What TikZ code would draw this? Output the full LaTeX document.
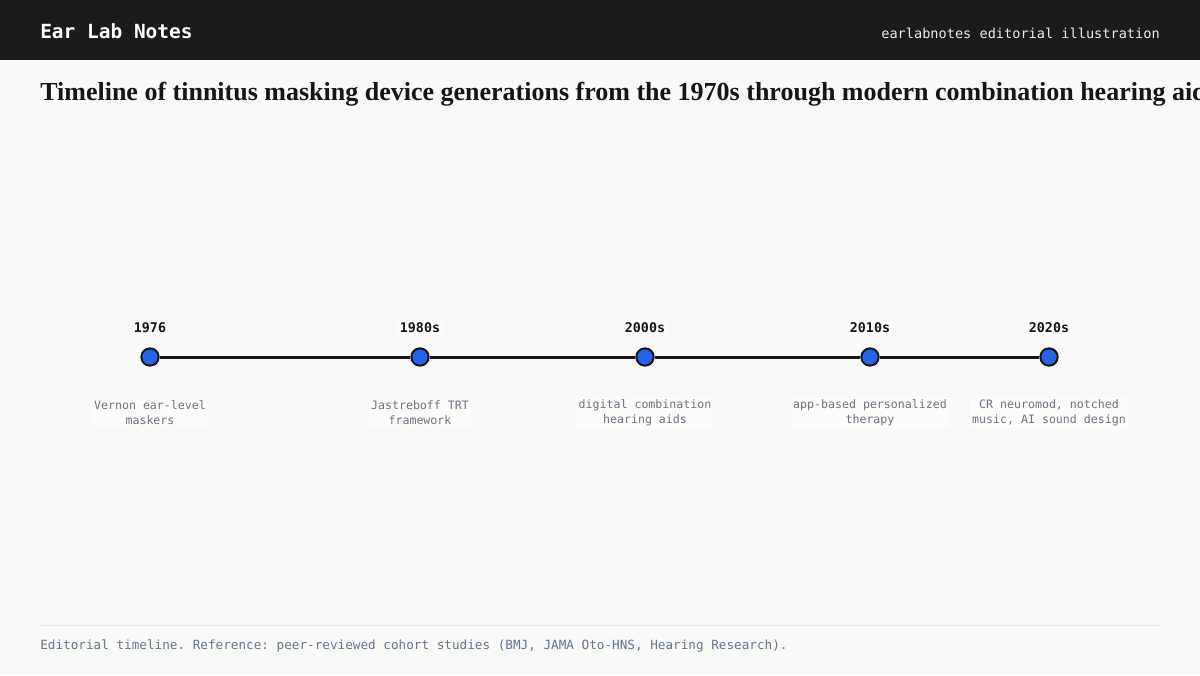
\documentclass[tikz,border=0pt]{standalone}
\usepackage{fontspec}
\setmainfont{Liberation Serif}
\setmonofont{DejaVu Sans Mono}
\usetikzlibrary{positioning}
\definecolor{headbg}{HTML}{1B1B1B}
\definecolor{pagebg}{HTML}{F9F9F7}
\definecolor{dotblue}{HTML}{2563EB}
\definecolor{inkdark}{HTML}{151515}
\definecolor{notegray}{HTML}{6B7280}
\definecolor{footgray}{HTML}{64748B}
\definecolor{rulegray}{HTML}{E6E6E3}
\newcommand{\lineY}{357}
\newcommand{\yearY}{328}
\newcommand{\noteY}{413}
\newcommand{\xone}{150}
\newcommand{\xtwo}{420}
\newcommand{\xthree}{645}
\newcommand{\xfour}{870}
\newcommand{\xfive}{1049}
\tikzset{
  yeardot/.style={circle,draw=inkdark,line width=1.5pt,fill=dotblue,inner sep=0pt,minimum size=13pt},
  yearlabel/.style={fill=white!55!pagebg,inner sep=1.5pt,font=\fontsize{10}{12}\selectfont\ttfamily\bfseries,text=inkdark},
  notelabel/.style={fill=white!55!pagebg,inner sep=1.5pt,align=center,font=\fontsize{8.7}{11.4}\selectfont\ttfamily,text=notegray},
  timeline/.style={draw=inkdark,line width=2.25pt}
}
\begin{document}
\begin{tikzpicture}[x=0.75pt,y=-0.75pt]

% Page and header band
\useasboundingbox (0,0) rectangle (1200,675);
\fill[pagebg] (0,0) rectangle (1200,675);
\fill[headbg] (0,0) rectangle (1200,60);
\node (brand) [anchor=west,inner sep=0pt,text=white,font=\fontsize{14.6}{16}\selectfont\ttfamily\bfseries] at (40,31) {Ear Lab Notes};
\node (tagline) [anchor=east,inner sep=0pt,text=white!92!black,font=\fontsize{10.2}{12}\selectfont\ttfamily] at (1160,33) {earlabnotes editorial illustration};

% Title
\node (title) [anchor=base west,inner sep=0pt,text=inkdark,font=\fontsize{19.5}{22}\selectfont\bfseries] at (40,100) {Timeline of tinnitus masking device generations from the 1970s through modern combination hearing aids};

% Timeline dots
\node (d1) [yeardot] at (\xone,\lineY) {};
\node (d2) [yeardot] at (\xtwo,\lineY) {};
\node (d3) [yeardot] at (\xthree,\lineY) {};
\node (d4) [yeardot] at (\xfour,\lineY) {};
\node (d5) [yeardot] at (\xfive,\lineY) {};

% Connectors
\draw[timeline] (d1) -- (d2);
\draw[timeline] (d2) -- (d3);
\draw[timeline] (d3) -- (d4);
\draw[timeline] (d4) -- (d5);

% Year labels
\node (y1) [yearlabel] at (\xone,\yearY) {1976};
\node (y2) [yearlabel] at (\xtwo,\yearY) {1980s};
\node (y3) [yearlabel] at (\xthree,\yearY) {2000s};
\node (y4) [yearlabel] at (\xfour,\yearY) {2010s};
\node (y5) [yearlabel] at (\xfive,\yearY) {2020s};

% Notes under the dots
\node (n1) [notelabel] at (\xone,\noteY) {Vernon ear-level\\maskers};
\node (n2) [notelabel] at (\xtwo,\noteY) {Jastreboff TRT\\framework};
\node (n3) [notelabel] at (\xthree,\noteY) {digital combination\\hearing aids};
\node (n4) [notelabel] at (\xfour,\noteY) {app-based personalized\\therapy};
\node (n5) [notelabel] at (\xfive,\noteY) {CR neuromod, notched\\music, AI sound design};

% Footer
\draw[rulegray,line width=0.75pt] (40,625) -- (1160,625);
\node (footer) [anchor=west,inner sep=0pt,text=footgray,font=\fontsize{9.5}{11}\selectfont\ttfamily] at (40,646) {Editorial timeline. Reference: peer-reviewed cohort studies (BMJ, JAMA Oto-HNS, Hearing Research).};

\end{tikzpicture}
\end{document}
